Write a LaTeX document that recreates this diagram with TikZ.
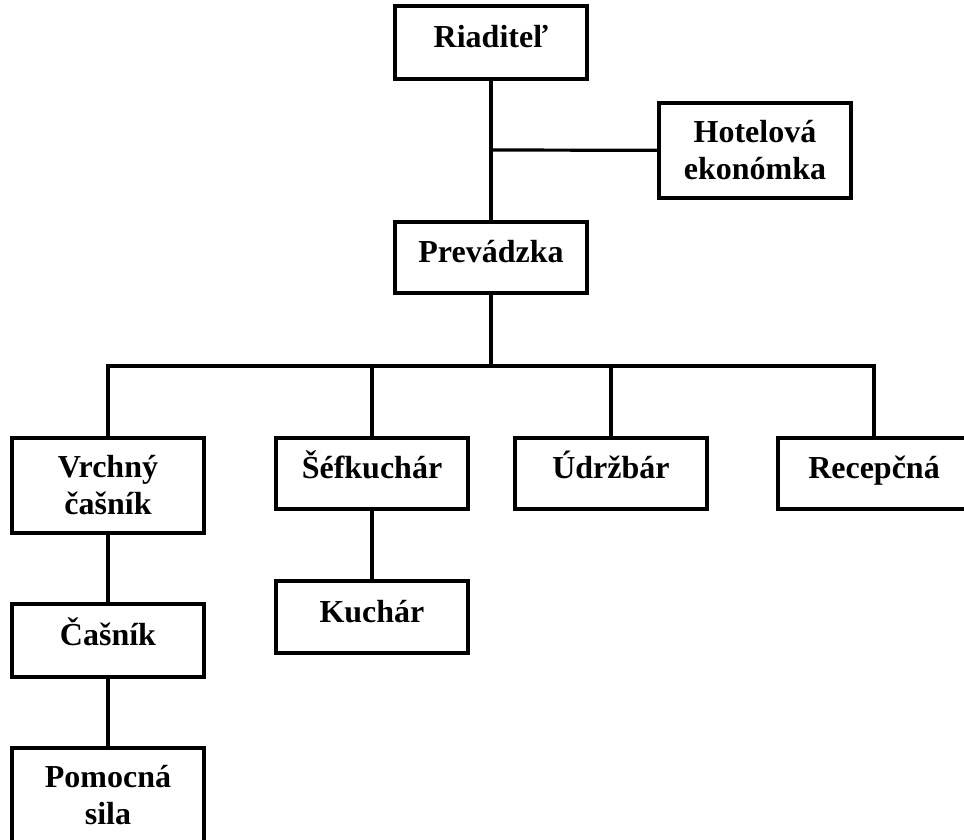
\documentclass[tikz,border=0pt]{standalone}
\usepackage{fontspec}
\setmainfont{Liberation Serif}
\begin{document}
\begin{tikzpicture}[x=1pt,y=-1pt,
  base/.style={draw,line width=3.2pt,minimum width=192pt,inner sep=0pt,
    font=\bfseries\fontsize{32}{37}\selectfont},
  box/.style={base,align=center},
  one/.style={base,text height=22pt,text depth=12pt},
  conn/.style={line width=3.2pt}]
\useasboundingbox[fill=white] (0,0) rectangle (964,840);
\node[one,minimum height=73pt] (ria) at (491,42.5) {Riaditeľ};
\node[box,minimum height=95pt] (hot) at (755,150.5) {Hotelová\\ekonómka};
\node[one,minimum height=71pt] (prev) at (491,257.5) {Prevádzka};
\node[box,minimum height=95pt] (vrch) at (108,485.5) {Vrchný\\čašník};
\node[one,minimum height=71pt] (sef) at (372,473.5) {Šéfkuchár};
\node[one,minimum height=71pt] (udr) at (611,473.5) {Údržbár};
\node[one,minimum height=71pt] (rec) at (874,473.5) {Recepčná};
\node[one,minimum height=72pt] (kuch) at (372,617) {Kuchár};
\node[one,minimum height=73pt] (cas) at (108,640.5) {Čašník};
\node[box,minimum height=95pt] (pom) at (108,795.5) {Pomocná\\sila};
\coordinate (hj) at (491,150);
\coordinate (bus) at (491,366);
\draw[conn] (ria) -- (prev);
\draw[conn] (hj) -- (hot);
\draw[conn] (prev) -- (bus);
\draw[conn] (vrch.north) |- (bus) -| (rec.north);
\draw[conn] (sef.north) -- (sef.north |- bus);
\draw[conn] (udr.north) -- (udr.north |- bus);
\draw[conn] (sef) -- (kuch);
\draw[conn] (vrch) -- (cas);
\draw[conn] (cas) -- (pom);
\end{tikzpicture}
\end{document}
